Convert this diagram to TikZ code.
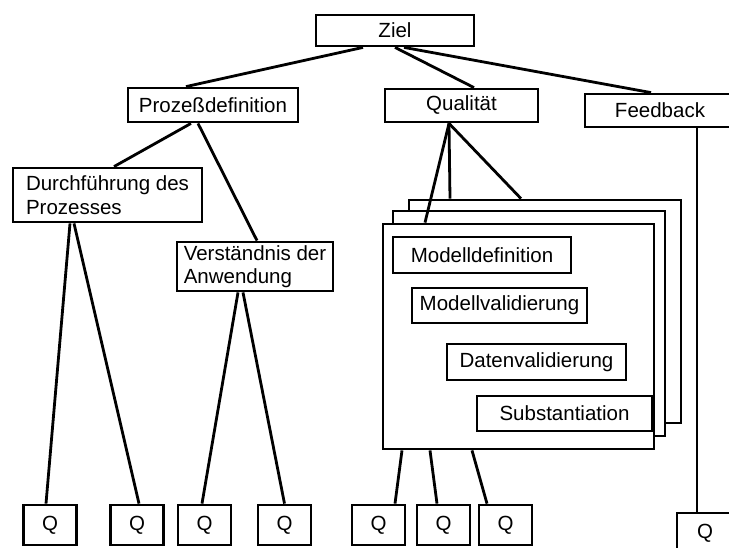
\documentclass[tikz,border=0pt]{standalone}
\usepackage{fontspec}
\setmainfont{Liberation Sans}
\tikzset{%
  kasten/.style={draw,line width=2.8pt,fill=white,inner sep=0pt,%
    font=\fontsize{20.5}{23.5}\selectfont,align=left},%
  qkasten/.style={kasten,minimum width=53pt,minimum height=40pt},%
  blatt/.style={draw,line width=2.8pt,fill=white,inner sep=0pt},%
  kante/.style={line width=2.8pt}%
}

\begin{document}
\begin{tikzpicture}[x=1pt,y=-1pt]
  \useasboundingbox (0,0) rectangle (729,547);
  %
  \node[kasten,minimum width=158pt,minimum height=31pt] (ziel) at (395,30.5) {Ziel};%
  \node[kasten,minimum width=170pt,minimum height=34pt] (proz) at (213,105) {Prozeßdefinition};%
  \node[kasten,minimum width=153pt,minimum height=33pt] (qual) at (461.5,105.5) {Qualität};%
  \node[kasten,minimum width=150pt,minimum height=33pt] (feed) at (660,110.5) {Feedback};%
  \node[kasten,minimum width=189pt,minimum height=54pt] (durch) at (107.5,195) {Durchführung des\\Prozesses};%
  \node[kasten,minimum width=156pt,minimum height=49pt] (vers) at (255,266.5) {Verständnis der\\Anwendung};%
  %
  \begin{scope}
    \node[blatt,minimum width=272pt,minimum height=223pt] (blatt3) at (545,311.5) {};%
    \node[blatt,minimum width=272pt,minimum height=225pt] (blatt2) at (529,323.5) {};%
    \node[blatt,minimum width=271pt,minimum height=225pt] (blatt1) at (518.5,336.5) {};%
    \node[kasten,minimum width=178pt,minimum height=36pt] (moddef) at (482,255) {Modelldefinition};%
    \node[kasten,minimum width=175pt,minimum height=35pt] (modval) at (499.5,305.5) {Modellvalidierung};%
    \node[kasten,minimum width=179pt,minimum height=36pt] (datval) at (536.5,362) {Datenvalidierung};%
    \node[kasten,minimum width=175pt,minimum height=35pt] (subst) at (564.5,413.5) {Substantiation};%
  \end{scope}
  %
  \foreach \i/\x in {1/50,2/137,3/204.5,4/284.5,5/378.5,6/443.5,7/505.5}%
  \node[qkasten] (q\i) at (\x,525) {Q};%
  \node[qkasten,minimum width=56pt] (q8) at (705,533) {Q};%
  %
  \begin{scope}[kante]
    \draw ([xshift=-32pt]ziel.south) -- ([xshift=-27pt]proz.north);%
    \draw (ziel.south) -- ([xshift=12.5pt]qual.north);%
    \draw ([xshift=9pt]ziel.south) -- ([xshift=-9pt]feed.north);%
    \draw ([xshift=-22pt]proz.south) -- ([xshift=6.5pt]durch.north);%
    \draw ([xshift=-15pt]proz.south) -- ([xshift=2pt]vers.north);%
    \draw ([xshift=-12.5pt]qual.south) -- ([xshift=-93.5pt]blatt1.north);%
    \draw ([xshift=-12.5pt]qual.south) -- ([xshift=-95pt]blatt3.north);%
    \draw ([xshift=-12.5pt]qual.south) -- ([xshift=-24pt]blatt3.north);%
    \draw ([xshift=-37.5pt]durch.south) -- ([xshift=-4pt]q1.north);%
    \draw ([xshift=-33.5pt]durch.south) -- ([xshift=2pt]q2.north);%
    \draw ([xshift=-17pt]vers.south) -- ([xshift=-2.5pt]q3.north);%
    \draw ([xshift=-12pt]vers.south) -- (q4.north);%
    \draw ([xshift=-116.5pt]blatt1.south) -- ([xshift=16.5pt]q5.north);%
    \draw ([xshift=-88.5pt]blatt1.south) -- ([xshift=-6.5pt]q6.north);%
    \draw ([xshift=-46.5pt]blatt1.south) -- ([xshift=-18.5pt]q7.north);%
    \draw ([xshift=37pt]feed.south) -- ([xshift=-8pt]q8.north);%
  \end{scope}
\end{tikzpicture}
\end{document}
